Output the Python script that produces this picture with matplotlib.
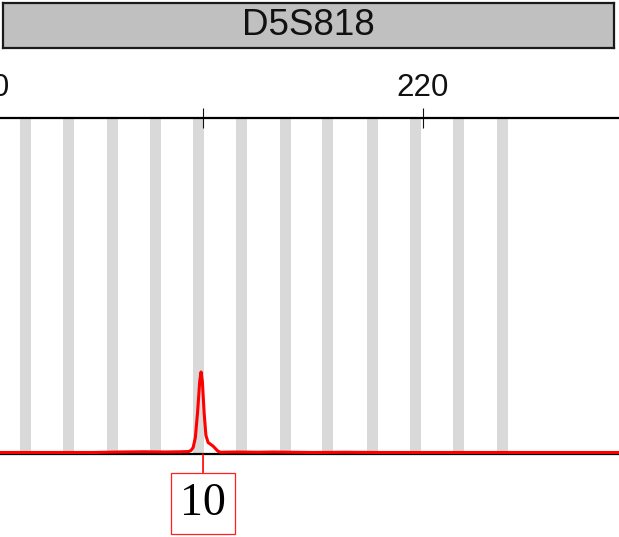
import matplotlib
matplotlib.use("Agg")
import matplotlib.pyplot as plt
import matplotlib.transforms as mtransforms

# marker / axis data
marker = "D5S818"
x_range = (200.77, 228.91)          # bp shown in the window
tick_pos = [200, 210, 220, 230]
label_pos = [200, 220]
label_text = ["200", "220"]

# allelic ladder bins (bp centres)
bin_centers = [201.93, 203.9, 205.88, 207.84, 209.8, 211.77,
               213.73, 215.68, 217.7, 219.66, 221.61, 223.6]
bin_width = 0.5

# sample trace (bp, RFU)
trace_bp = [200.77, 202.0, 203.5, 205.0, 206.2, 207.3, 208.3, 209.0, 209.35,
            209.45, 209.55, 209.65, 209.75, 209.85, 209.91, 209.97, 210.05,
            210.13, 210.23, 210.45, 210.68, 210.8, 211.5, 212.5, 213.2, 214.0,
            215.0, 216.5, 218.0, 220.0, 222.0, 224.0, 226.0, 228.91]
trace_rfu = [6, 6, 6, 6, 8, 9, 8, 9, 10,
             14, 26, 65, 165, 292, 328, 290, 165,
             75, 46, 32, 11, 7, 8, 7, 8, 7,
             6, 7, 6, 6, 6, 6, 6, 6]

# called alleles
alleles = ["10"]
allele_bp = [210.0]

fig = plt.figure(figsize=(6.19, 5.37), dpi=100)

# marker banner
bax = fig.add_axes([3 / 619, 1 - 48 / 537, 611 / 619, 45 / 537])
bax.set_facecolor("#c0c0c0")
bax.set_xticks([])
bax.set_yticks([])
for s in bax.spines.values():
    s.set_linewidth(1.6)
    s.set_color("#1a1a1a")
bax.text(0.5, 0.5, marker, ha="center", va="center", fontsize=26.5,
         family="Liberation Sans", color="#111111", transform=bax.transAxes)

# electropherogram panel
ax = fig.add_axes([0, 1 - 454 / 537, 1, 336 / 537])

for c in bin_centers:
    ax.axvspan(c - bin_width / 2, c + bin_width / 2, color="#d9d9d9", lw=0, zorder=0)

ax.plot(trace_bp, trace_rfu, color="#ff0000", lw=2.2, zorder=3,
        solid_joinstyle="round")

for lab, pos in zip(alleles, allele_bp):
    ax.annotate(lab, xy=(pos, 0), xycoords="data", xytext=(0, -35.5),
                textcoords="offset points", ha="center", va="center",
                fontsize=33, family="Liberation Serif", color="black",
                bbox=dict(boxstyle="square,pad=0.2", fc="white", ec="#ff2020", lw=0.9),
                arrowprops=dict(arrowstyle="-", color="#ff0000", lw=1.2,
                                shrinkA=0, shrinkB=0),
                annotation_clip=False)

ax.spines["left"].set_visible(False)
ax.spines["right"].set_visible(False)
ax.spines["top"].set_linewidth(1.6)
ax.spines["bottom"].set_linewidth(1.6)
ax.set_yticks([])
ax.xaxis.set_ticks_position("top")
ax.set_xticks(tick_pos)
ax.set_xticklabels([])
ax.tick_params(axis="x", direction="inout", length=14, width=0.8,
               colors="#111111")

# size labels (drawn as text so a label centred just off the window still shows)
trans = mtransforms.blended_transform_factory(ax.transData, ax.transAxes)
for lab, pos in zip(label_text, label_pos):
    ax.annotate(lab, xy=(pos, 1), xycoords=trans, xytext=(0, 21.5),
                textcoords="offset points", ha="center", va="center",
                fontsize=22.5, family="Liberation Sans", color="#111111",
                annotation_clip=False)

# limits after the ticks so the view is not widened
ax.set_xlim(*x_range)
ax.set_ylim(0, 1344)

fig.savefig("out.png", dpi=100)
